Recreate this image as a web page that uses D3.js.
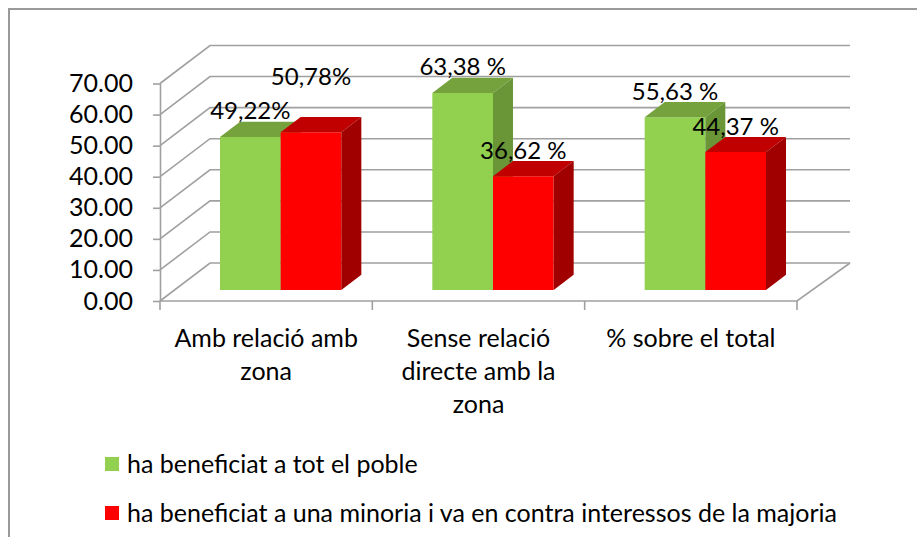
<!DOCTYPE html>
<html>
<head>
<meta charset="utf-8">
<script src="https://cdn.jsdelivr.net/npm/d3@7"></script>
<style>
  body { margin: 0; background: #fff; }
  svg text { font-family: Lato, "Open Sans", sans-serif; fill: #000; }
</style>
</head>
<body>
<div id="chart"></div>
<script>
// data
const categories = ["Amb relació amb zona", "Sense relació directe amb la zona", "% sobre el total"];
const seriesNames = ["ha beneficiat a tot el poble", "ha beneficiat a una minoria i va en contra interessos de la majoria"];
const beneficiatTots = [49.22, 63.38, 55.63];
const beneficiatMinoria = [50.78, 36.62, 44.37];
const labelsTots = ["49,22%", "63,38 %", "55,63 %"];
const labelsMinoria = ["50,78%", "36,62 %", "44,37 %"];
const yTicks = [0, 10, 20, 30, 40, 50, 60, 70];

const W = 917, H = 537;
const colors = [
    { front: "#92d050", top: "#76a23e", side: "#6a9638" },
    { front: "#ff0000", top: "#c00000", side: "#a00000" }
];

const svg = d3.select("#chart").append("svg")
    .attr("width", W)
    .attr("height", H);

// chart frame
svg.append("rect")
    .attr("x", 9).attr("y", 9)
    .attr("width", W + 20).attr("height", H + 20)
    .attr("fill", "none")
    .attr("stroke", "#9a9a9a")
    .attr("stroke-width", 2);

// scales
const x = d3.scaleBand().domain(categories).range([160, 797]);
const xSub = d3.scaleBand().domain([0, 1]).range([0, x.bandwidth()]).paddingOuter(0.75);
const y = d3.scaleLinear().domain([0, 70]).range([301, 83.5]);

// depth of the 3d box
const DX = 50, DY = 38;
const barD0 = 0.29, barD1 = 0.69;

const grid = svg.append("g")
    .attr("fill", "none")
    .attr("stroke", "#a0a0a0")
    .attr("stroke-width", 1.6);

// walls: left diagonals + back horizontals
yTicks.forEach(v => {
    grid.append("path")
        .attr("d", "M" + x.range()[0] + "," + y(v) +
            "L" + (x.range()[0] + DX) + "," + (y(v) - DY) +
            "L" + (x.range()[1] + DX + 3) + "," + (y(v) - DY));
});
// floor front edge and right edge
grid.append("path")
    .attr("d", "M" + x.range()[0] + "," + y(0) +
        "L" + x.range()[1] + "," + y(0) +
        "L" + (x.range()[1] + DX + 3) + "," + (y(0) - DY));

// y axis
const yAxis = svg.append("g")
    .attr("transform", "translate(" + x.range()[0] + ",0)")
    .call(d3.axisLeft(y).tickValues(yTicks).tickFormat(d3.format(".2f")).tickSize(7).tickSizeOuter(0).tickPadding(20));
yAxis.select(".domain").attr("stroke", "#a0a0a0").attr("stroke-width", 1.6);
yAxis.selectAll(".tick line").attr("stroke", "#a0a0a0").attr("stroke-width", 1.6);
yAxis.selectAll(".tick text").style("font-size", "25px").attr("font-family", null);

// category ticks between bands
const bounds = categories.map(c => x(c)).concat([x.range()[1]]);
svg.append("g").selectAll("line")
    .data(bounds)
    .enter()
    .append("line")
    .attr("x1", d => d).attr("x2", d => d)
    .attr("y1", y(0)).attr("y2", y(0) + 9)
    .attr("stroke", "#a0a0a0")
    .attr("stroke-width", 1.6);

// category labels
svg.append("g").selectAll("text")
    .data(categories)
    .enter()
    .append("text")
    .attr("x", d => x(d) + x.bandwidth() / 2)
    .attr("y", 347)
    .attr("text-anchor", "middle")
    .style("font-size", "25px")
    .text(d => d)
    .call(wrap, 200);

// bars
const series = [beneficiatTots, beneficiatMinoria];
const labels = [labelsTots, labelsMinoria];
const labelLift = [[0, 0, 0], [30, 0, 0]];

function pt(px, v, f) {
    return [px + f * DX, y(v) - f * DY];
}

const bars = svg.append("g");
categories.forEach((c, i) => {
    series.forEach((s, k) => {
        const v = s[i];
        const xl = x(c) + xSub(k);
        const xr = xl + xSub.bandwidth();
        const a = pt(xl, 0, barD0), b = pt(xr, 0, barD0);
        const ta = pt(xl, v, barD0), tb = pt(xr, v, barD0);
        const tc = pt(xr, v, barD1), td = pt(xl, v, barD1);
        const bc = pt(xr, 0, barD1);
        const g = bars.append("g");
        g.append("path")
            .attr("d", "M" + [a, b, tb, ta].join("L") + "Z")
            .attr("fill", colors[k].front);
        g.append("path")
            .attr("d", "M" + [ta, tb, tc, td].join("L") + "Z")
            .attr("fill", colors[k].top);
        g.append("path")
            .attr("d", "M" + [b, bc, tc, tb].join("L") + "Z")
            .attr("fill", colors[k].side);
    });
});

// data labels
const lab = svg.append("g");
categories.forEach((c, i) => {
    series.forEach((s, k) => {
        const xl = x(c) + xSub(k);
        const p = pt(xl + xSub.bandwidth() / 2, s[i], barD0);
        lab.append("text")
            .attr("x", p[0])
            .attr("y", p[1] - 26 - labelLift[k][i])
            .attr("dy", "0.35em")
            .attr("text-anchor", "middle")
            .style("font-size", "24px")
            .text(labels[k][i]);
    });
});

// legend
const legend = svg.append("g").selectAll("g")
    .data(seriesNames)
    .enter()
    .append("g")
    .attr("transform", (d, i) => "translate(105," + (464 + i * 49) + ")");
legend.append("rect")
    .attr("x", 0).attr("y", -7)
    .attr("width", 14).attr("height", 14)
    .attr("fill", (d, i) => colors[i].front);
legend.append("text")
    .attr("x", 22)
    .attr("dy", "0.35em")
    .style("font-size", "25px")
    .text(d => d);

function wrap(text, width) {
    text.each(function() {
        const text = d3.select(this);
        let words = text.text().split(/\s+/).reverse();
        let word;
        let line = [];
        let lineNumber = 0;
        const lineHeight = 1.32;
        const xx = text.attr("x");
        const yy = text.attr("y");
        let tspan = text.text(null).append("tspan").attr("x", xx).attr("y", yy).attr("dy", "0em");
        while (word = words.pop()) {
            line.push(word);
            tspan.text(line.join(" "));
            if (tspan.node().getComputedTextLength() > width) {
                line.pop();
                tspan.text(line.join(" "));
                line = [word];
                tspan = text.append("tspan")
                    .attr("x", xx)
                    .attr("y", yy)
                    .attr("dy", ++lineNumber * lineHeight + "em")
                    .text(word);
            }
        }
    });
}
</script>
</body>
</html>
